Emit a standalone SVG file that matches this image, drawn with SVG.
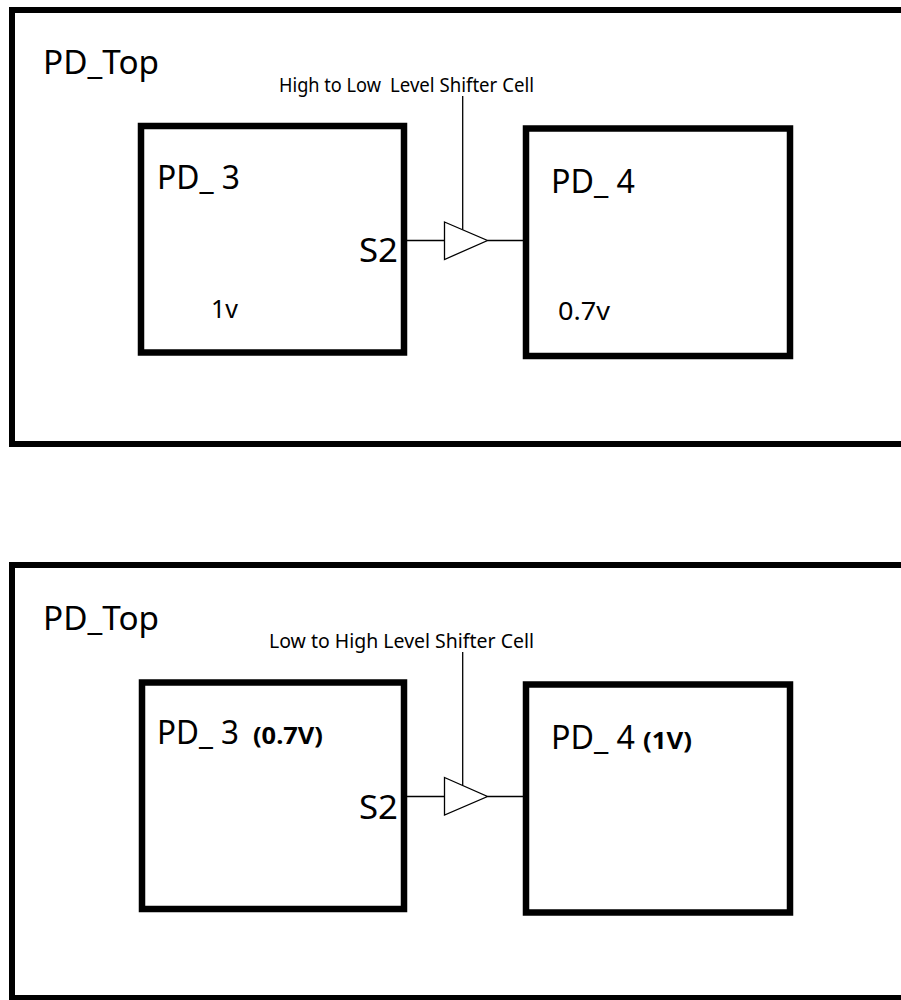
<svg xmlns="http://www.w3.org/2000/svg" width="901" height="1000" viewBox="0 0 901 1000">
<style>
.frame{fill:none;stroke:#000;stroke-width:6}
.box{fill:none;stroke:#000;stroke-width:6.5}
.wire{fill:none;stroke:#000;stroke-width:1.3}
.buf{fill:#fff;stroke:#000;stroke-width:1.3;stroke-linejoin:miter}
.big{font-family:"Noto Sans","Open Sans",sans-serif;font-size:32px;fill:#000}
.lbl{font-family:"Noto Sans","Open Sans",sans-serif;font-size:19px;fill:#000}
.volt{font-family:"Noto Sans","Open Sans",sans-serif;font-size:25px;fill:#000}
.bold{font-family:"Noto Sans","Open Sans",sans-serif;font-size:24px;font-weight:bold;fill:#000}
</style>
<rect width="901" height="1000" fill="#fff"/>

<!-- Top diagram -->
<g id="pd_top_1">
<rect class="frame" x="12" y="10" width="910" height="434"/>
<text class="big" x="43" y="74" textLength="116" lengthAdjust="spacingAndGlyphs">PD_Top</text>
</g>
<g id="pd3_1">
<rect class="box" x="141" y="126" width="263" height="226.5"/>
<text class="big" x="157" y="189" textLength="83" lengthAdjust="spacingAndGlyphs">PD_ 3</text>
<text class="big" x="359" y="262" textLength="39" lengthAdjust="spacingAndGlyphs">S2</text>
<text class="volt" x="211" y="318" textLength="27" lengthAdjust="spacingAndGlyphs">1v</text>
</g>
<g id="pd4_1">
<rect class="box" x="526" y="128.5" width="264" height="227.5"/>
<text class="big" x="551" y="192.5" textLength="84" lengthAdjust="spacingAndGlyphs">PD_ 4</text>
<text class="volt" x="558" y="320" textLength="52" lengthAdjust="spacingAndGlyphs">0.7v</text>
</g>
<g id="ls_1">
<polygon class="buf" points="444.5,222 487.5,240.5 444.5,259.5"/>
<text class="lbl"><tspan x="279" y="92" textLength="102" lengthAdjust="spacingAndGlyphs">High to Low</tspan><tspan x="390" y="92" textLength="144" lengthAdjust="spacingAndGlyphs">Level Shifter Cell</tspan></text>
</g>

<!-- Bottom diagram -->
<g id="pd_top_2">
<rect class="frame" x="12" y="565" width="910" height="433"/>
<text class="big" x="43" y="629.5" textLength="116" lengthAdjust="spacingAndGlyphs">PD_Top</text>
</g>
<g id="pd3_2">
<rect class="box" x="142" y="682.5" width="262" height="226.5"/>
<text class="big" x="157" y="744" textLength="82" lengthAdjust="spacingAndGlyphs">PD_ 3</text>
<text class="bold" x="253" y="743.5" textLength="70" lengthAdjust="spacingAndGlyphs">(0.7V)</text>
<text class="big" x="359" y="819" textLength="39" lengthAdjust="spacingAndGlyphs">S2</text>
</g>
<g id="pd4_2">
<rect class="box" x="526" y="684.5" width="264" height="228"/>
<text class="big" x="551" y="749" textLength="84" lengthAdjust="spacingAndGlyphs">PD_ 4</text>
<text class="bold" x="643" y="749" textLength="49" lengthAdjust="spacingAndGlyphs">(1V)</text>
</g>
<g id="ls_2">
<polygon class="buf" points="444.5,777.5 487.5,796.5 444.5,815"/>
<text class="lbl" x="269" y="648" textLength="265" lengthAdjust="spacingAndGlyphs">Low to High Level Shifter Cell</text>
</g>

<g id="connectors">
<line class="wire" x1="407" y1="240.5" x2="444.5" y2="240.5"/>
<line class="wire" x1="487.5" y1="240.5" x2="523" y2="240.5"/>
<line class="wire" x1="462.7" y1="96" x2="462.7" y2="229.8"/>
<line class="wire" x1="407" y1="796.5" x2="444.5" y2="796.5"/>
<line class="wire" x1="487.5" y1="796.5" x2="523" y2="796.5"/>
<line class="wire" x1="462.7" y1="652" x2="462.7" y2="785.5"/>
</g>
</svg>
